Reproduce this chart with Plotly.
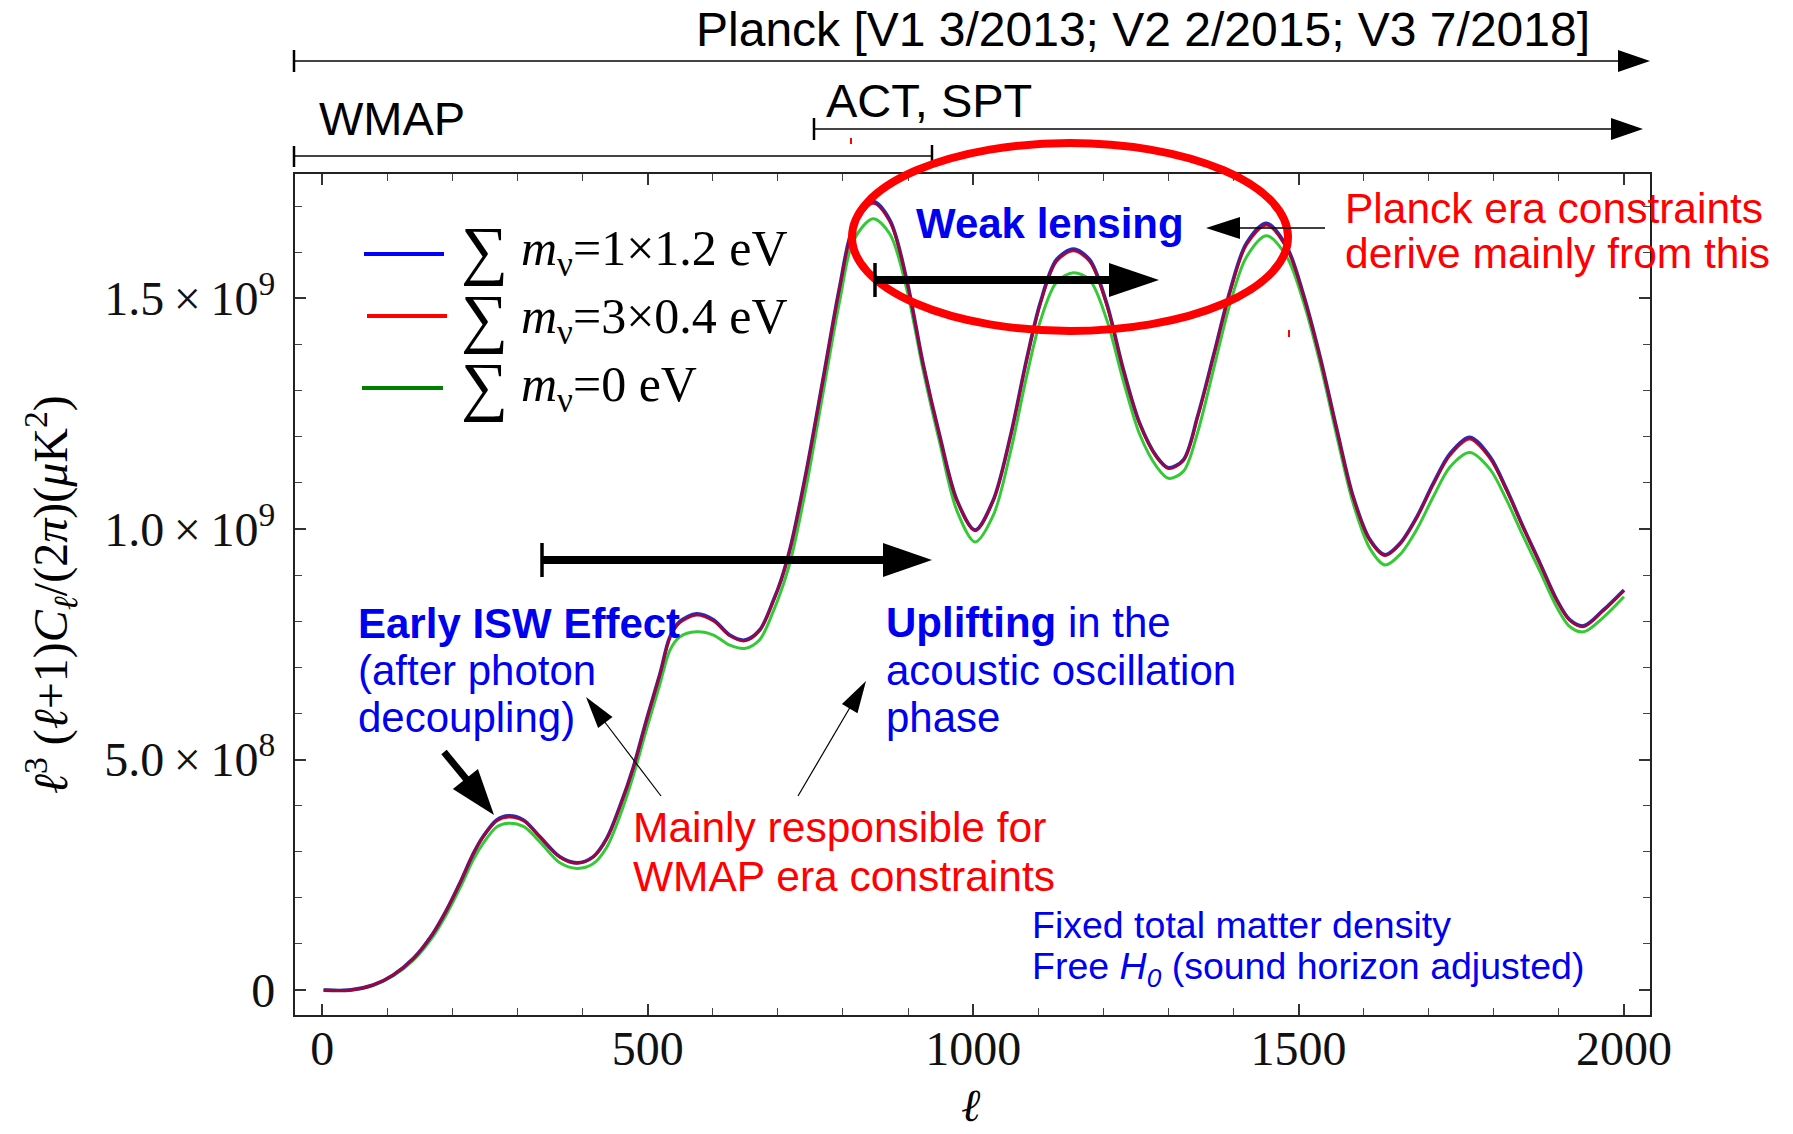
import plotly.graph_objects as go

# Multipole moments and spectra D = l^3 (l+1) C_l / (2 pi), in units of 1e9 uK^2
ell = [2, 42, 78, 109, 140, 170, 191, 211, 232, 247, 268, 286, 309, 334, 365, 391,
       416, 437, 457, 478, 498, 519, 534, 549, 575, 601, 626, 649, 672, 693, 705,
       720, 744, 770, 795, 816, 846, 872, 898, 923, 949, 975, 1003, 1031, 1057,
       1082, 1103, 1128, 1154, 1179, 1205, 1231, 1256, 1282, 1300, 1323, 1345,
       1370, 1395, 1420, 1451, 1482, 1507, 1533, 1559, 1584, 1610, 1633, 1656,
       1682, 1707, 1733, 1763, 1794, 1820, 1845, 1871, 1897, 1917, 1938, 1968, 2000]

spec_blue = [0.000, 0.000, 0.011, 0.033, 0.069, 0.123, 0.174, 0.231, 0.296, 0.333,
             0.369, 0.378, 0.369, 0.333, 0.289, 0.276, 0.289, 0.329, 0.398, 0.484,
             0.586, 0.687, 0.766, 0.799, 0.816, 0.803, 0.770, 0.759, 0.781, 0.845,
             0.890, 0.965, 1.128, 1.330, 1.526, 1.656, 1.710, 1.670, 1.540, 1.359,
             1.200, 1.063, 0.998, 1.063, 1.200, 1.367, 1.490, 1.584, 1.607, 1.584,
             1.490, 1.345, 1.229, 1.157, 1.133, 1.150, 1.245, 1.380, 1.518, 1.620,
             1.663, 1.612, 1.511, 1.374, 1.215, 1.070, 0.976, 0.944, 0.969, 1.027,
             1.099, 1.164, 1.199, 1.157, 1.085, 1.005, 0.926, 0.846, 0.803, 0.790,
             0.824, 0.868]

spec_red = [0.000, 0.000, 0.011, 0.033, 0.069, 0.123, 0.174, 0.231, 0.296, 0.332,
            0.367, 0.375, 0.367, 0.332, 0.288, 0.275, 0.288, 0.328, 0.397, 0.483,
            0.585, 0.686, 0.764, 0.796, 0.813, 0.800, 0.768, 0.757, 0.780, 0.844,
            0.889, 0.964, 1.127, 1.329, 1.524, 1.652, 1.706, 1.666, 1.538, 1.358,
            1.199, 1.062, 0.996, 1.062, 1.199, 1.365, 1.487, 1.580, 1.603, 1.580,
            1.487, 1.343, 1.227, 1.155, 1.131, 1.148, 1.243, 1.378, 1.515, 1.616,
            1.659, 1.608, 1.508, 1.372, 1.213, 1.068, 0.974, 0.942, 0.967, 1.025,
            1.096, 1.160, 1.195, 1.153, 1.082, 1.003, 0.924, 0.844, 0.801, 0.788,
            0.822, 0.866]

spec_green = [0.000, 0.000, 0.010, 0.031, 0.065, 0.116, 0.165, 0.220, 0.283, 0.318,
              0.354, 0.362, 0.355, 0.322, 0.276, 0.264, 0.274, 0.310, 0.377, 0.466,
              0.565, 0.665, 0.737, 0.766, 0.777, 0.770, 0.748, 0.741, 0.760, 0.822,
              0.866, 0.935, 1.095, 1.300, 1.495, 1.625, 1.673, 1.640, 1.520, 1.345,
              1.185, 1.040, 0.972, 1.030, 1.165, 1.330, 1.450, 1.535, 1.556, 1.540,
              1.455, 1.320, 1.205, 1.135, 1.110, 1.125, 1.210, 1.350, 1.490, 1.590,
              1.636, 1.590, 1.495, 1.360, 1.200, 1.055, 0.957, 0.922, 0.945, 1.000,
              1.070, 1.135, 1.166, 1.130, 1.062, 0.985, 0.908, 0.830, 0.788, 0.777,
              0.808, 0.853]

series_names = ["m1.2x1", "m0.4x3", "m0"]

x_ticks = [0, 500, 1000, 1500, 2000]
y_ticks = [0, 0.5, 1.0, 1.5]
y_ticktext = ["0", "5.0\u2009×\u200910<sup>8</sup>", "1.0\u2009×\u200910<sup>9</sup>",
              "1.5\u2009×\u200910<sup>9</sup>"]

legend_labels = ["<i>m</i><sub>ν</sub>=1×1.2 eV", "<i>m</i><sub>ν</sub>=3×0.4 eV",
                 "<i>m</i><sub>ν</sub>=0 eV"]
legend_colors = ["#0000ff", "#ff0000", "#008000"]

SERIF = "Liberation Serif, Times New Roman, serif"
SANS = "Liberation Sans, Arial, sans-serif"
BLUE = "#0000f0"
RED = "#ff0000"

W_FIG, H_FIG = 1793, 1134
L, R, T, B = 295, 1650, 174, 1015


def px(X):
    return (X - L) / (R - L)


def py(Y):
    return (B - Y) / (B - T)


fig = go.Figure()
fig.add_trace(go.Scatter(x=ell, y=spec_green, mode="lines", name=series_names[2],
                         line=dict(color="#36c936", width=3, shape="spline", smoothing=0.9)))
fig.add_trace(go.Scatter(x=ell, y=spec_blue, mode="lines", name=series_names[0],
                         line=dict(color="#2a2ab8", width=3.6, shape="spline", smoothing=0.9)))
fig.add_trace(go.Scatter(x=ell, y=spec_red, mode="lines", name=series_names[1],
                         line=dict(color="#b0002a", width=2.6, shape="spline", smoothing=0.9),
                         opacity=0.9))

shapes = []


def seg(x0, y0, x1, y1, width, color="black"):
    shapes.append(dict(type="line", xref="paper", yref="paper",
                       x0=px(x0), y0=py(y0), x1=px(x1), y1=py(y1),
                       line=dict(color=color, width=width), layer="above"))


def head(tipx, tipy, fromx, fromy, length, half):
    dx, dy = tipx - fromx, tipy - fromy
    n = (dx * dx + dy * dy) ** 0.5
    ux, uy = dx / n, dy / n
    bx, by = tipx - ux * length, tipy - uy * length
    ax, ay = bx - uy * half, by + ux * half
    cx, cy = bx + uy * half, by - ux * half
    path = "M {} {} L {} {} L {} {} Z".format(px(tipx), py(tipy), px(ax), py(ay),
                                              px(cx), py(cy))
    shapes.append(dict(type="path", xref="paper", yref="paper", path=path,
                       fillcolor="black", line=dict(color="black", width=0),
                       layer="above"))


# survey coverage bars above the plot
seg(294, 61, 1622, 61, 2, "#444")
seg(294, 50, 294, 72, 2.5)
head(1650, 61, 1600, 61, 32, 11)
seg(814, 129, 1614, 129, 2, "#444")
seg(814, 118, 814, 140, 2.5)
head(1643, 129, 1600, 129, 32, 11)
seg(294, 156, 932, 156, 2, "#444")
seg(294, 146, 294, 167, 2.5)
seg(932, 145, 932, 167, 2.5)

# weak-lensing ellipse
shapes.append(dict(type="circle", xref="paper", yref="paper",
                   x0=px(852), x1=px(1288), y0=py(331), y1=py(143),
                   line=dict(color=RED, width=8), layer="above"))

# thick shift arrows
seg(542, 543, 542, 577, 3.5)
seg(542, 560, 888, 560, 8)
head(932, 560, 880, 560, 49, 17)
seg(875, 263, 875, 297, 3.5)
seg(875, 280, 1114, 280, 8)
head(1159, 280, 1100, 280, 50, 17)

# pointer to the weak-lensing label
seg(1325, 228, 1236, 228, 1.5)
head(1206, 228, 1260, 228, 34, 11)

# early ISW pointer
seg(444, 752, 472, 786, 7)
head(494, 815, 444, 752, 46, 16)

# thin pointers from the WMAP-era note
seg(661, 796, 604, 721, 1.2)
head(586, 697, 661, 796, 32, 9)
seg(798, 796, 852, 704, 1.2)
head(866, 681, 798, 796, 32, 9)

# small red marks
seg(851, 138, 851, 144, 2, RED)
seg(1289, 330, 1289, 337, 2, RED)

# legend samples
seg(364, 254, 444, 254, 4, legend_colors[0])
seg(367, 316, 447, 316, 4, legend_colors[1])
seg(362, 388, 443, 388, 4, legend_colors[2])

annotations = []


def txt(X, Y, text, size, color="black", family=SANS, xanchor="left", angle=0):
    annotations.append(dict(xref="paper", yref="paper", x=px(X), y=py(Y), text=text,
                            showarrow=False, xanchor=xanchor, yanchor="middle",
                            textangle=angle, font=dict(family=family, size=size, color=color)))


txt(694, 29, "Planck [V1 3/2013; V2 2/2015; V3 7/2018]", 48)
txt(824, 101, "ACT, SPT", 47)
txt(317, 119, "WMAP", 47)
txt(914, 223, "<b>Weak lensing</b>", 42, BLUE)
txt(1343, 208, "Planck era constraints", 42.5, RED)
txt(1343, 253, "derive mainly from this", 42.5, RED)
txt(356, 623, "<b>Early ISW Effect</b>", 42, BLUE)
txt(356, 670, "(after photon", 42, BLUE)
txt(356, 717, "decoupling)", 42, BLUE)
txt(884, 622, "<b>Uplifting</b> in the", 42, BLUE)
txt(884, 670, "acoustic oscillation", 42, BLUE)
txt(884, 717, "phase", 42, BLUE)
txt(631, 827, "Mainly responsible for", 42.5, RED)
txt(631, 876, "WMAP era constraints", 42.5, RED)
txt(1030, 925, "Fixed total matter density", 37.5, BLUE)
txt(1030, 969, "Free <i>H</i><sub><i>0</i></sub> (sound horizon adjusted)", 37.5, BLUE)

for lab, yy in zip(legend_labels, [252, 320, 388]):
    txt(459, yy - 2, "∑", 66, "black", SERIF)
    txt(519, yy, lab, 50, "black", SERIF)

txt(50, 595, "<i>ℓ</i><sup>3</sup> (<i>ℓ</i>+1)<i>C</i><sub><i>ℓ</i></sub>/(2<i>π</i>)(<i>μ</i>K<sup>2</sup>)",
    48, "black", SERIF, xanchor="center", angle=-90)
txt(971, 1105, "<i>ℓ</i>", 46, "black", SERIF, xanchor="center")

fig.update_layout(
    width=W_FIG, height=H_FIG, autosize=False,
    margin=dict(l=L, r=W_FIG - R, t=T, b=H_FIG - B, pad=0),
    paper_bgcolor="white", plot_bgcolor="white",
    showlegend=False,
    shapes=shapes, annotations=annotations,
    xaxis=dict(range=[-42, 2040], tickvals=x_ticks, ticks="inside", ticklen=11,
               tickwidth=1.6, tickcolor="#333", showgrid=False, zeroline=False,
               showline=True, linewidth=2.2, linecolor="#222", mirror="allticks",
               tickfont=dict(family=SERIF, size=48, color="#111"),
               ticklabelstandoff=-10,
               minor=dict(tick0=0, dtick=100, ticks="inside", ticklen=7,
                          tickwidth=1.3, tickcolor="#444")),
    yaxis=dict(range=[-0.054, 1.770], tickvals=y_ticks, ticktext=y_ticktext,
               ticks="inside", ticklen=11, tickwidth=1.6, tickcolor="#333",
               showgrid=False, zeroline=False, showline=True, linewidth=2.2,
               linecolor="#222", mirror="allticks",
               tickfont=dict(family=SERIF, size=48, color="#111"),
               ticklabelstandoff=8,
               minor=dict(tick0=0, dtick=0.1, ticks="inside", ticklen=7,
                          tickwidth=1.3, tickcolor="#444")),
)

fig.write_html("out.html")
